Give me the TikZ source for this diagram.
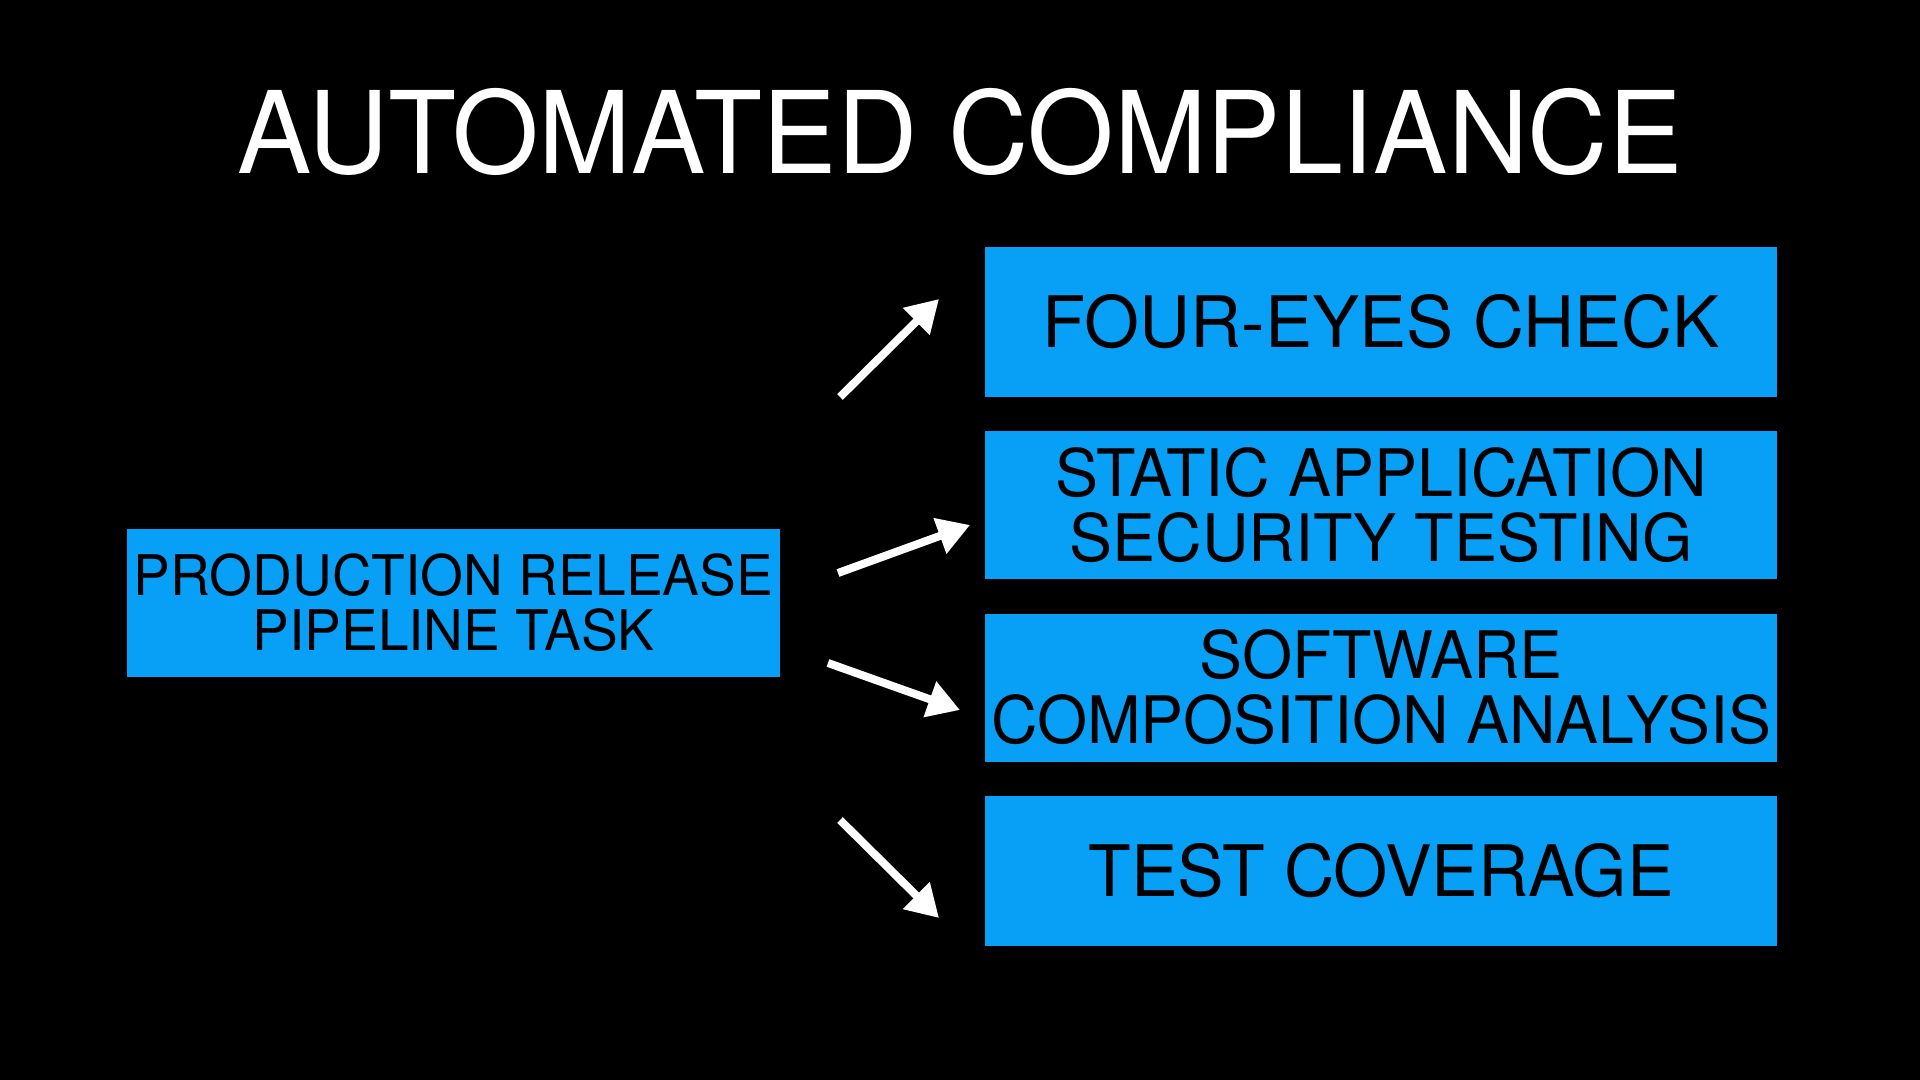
\documentclass[tikz,border=0pt]{standalone}
\usepackage{fontspec}
\setmainfont{TeX Gyre Heros}
\usetikzlibrary{arrows.meta}
\definecolor{boxblue}{RGB}{8,159,247}
\newcommand{\boxtext}[2]{\scalebox{#1}[1]{\vbox{\halign{\hfil##\hfil\cr #2\cr}}}}
\tikzset{
  bluebox/.style={fill=boxblue, draw=none, inner sep=0pt, text=black},
  rightbox/.style={bluebox, minimum width=396pt, minimum height=75pt},
  arrowline/.style={draw=white, line width=4pt, -{Triangle[length=16pt,width=18pt]}}
}
\begin{document}
\begin{tikzpicture}[x=0.5pt,y=-0.5pt]
  \fill[black] (0,0) rectangle (1920,1080);
  \useasboundingbox (0,0) rectangle (1920,1080);

  \node[anchor=base, text=white, inner sep=0pt, font=\fontsize{57}{60}\selectfont] (title) at (960,174)
    {\scalebox{0.976}[1]{AUTOMATED COMPLIANCE}};

  \node[bluebox, minimum width=326.5pt, minimum height=74pt, font=\fontsize{28}{27.5}\selectfont] (prt) at (453.5,603)
    {\boxtext{0.984}{PRODUCTION RELEASE\cr PIPELINE TASK}};

  \node[rightbox, font=\fontsize{35.5}{36}\selectfont] (four) at (1381,322)
    {\boxtext{0.995}{FOUR-EYES CHECK}};
  \node[rightbox, minimum height=74pt, font=\fontsize{32.75}{32.5}\selectfont] (sast) at (1381,505)
    {\boxtext{0.985}{STATIC APPLICATION\cr SECURITY TESTING}};
  \node[rightbox, minimum height=74pt, font=\fontsize{32.75}{32.5}\selectfont] (sca) at (1381,687.5)
    {\boxtext{0.984}{SOFTWARE\cr COMPOSITION ANALYSIS}};
  \node[rightbox, font=\fontsize{35.5}{36}\selectfont] (cov) at (1381,870.5)
    {\boxtext{0.983}{TEST COVERAGE}};

  \coordinate (a1s) at (840,397);
  \coordinate (a1e) at (939,299);
  \coordinate (a2s) at (838,573);
  \coordinate (a2e) at (970,525);
  \coordinate (a3s) at (828,663);
  \coordinate (a3e) at (960,710);
  \coordinate (a4s) at (840,820);
  \coordinate (a4e) at (939,918);

  \draw[arrowline] (a1s) -- (a1e);
  \draw[arrowline] (a2s) -- (a2e);
  \draw[arrowline] (a3s) -- (a3e);
  \draw[arrowline] (a4s) -- (a4e);
\end{tikzpicture}
\end{document}
